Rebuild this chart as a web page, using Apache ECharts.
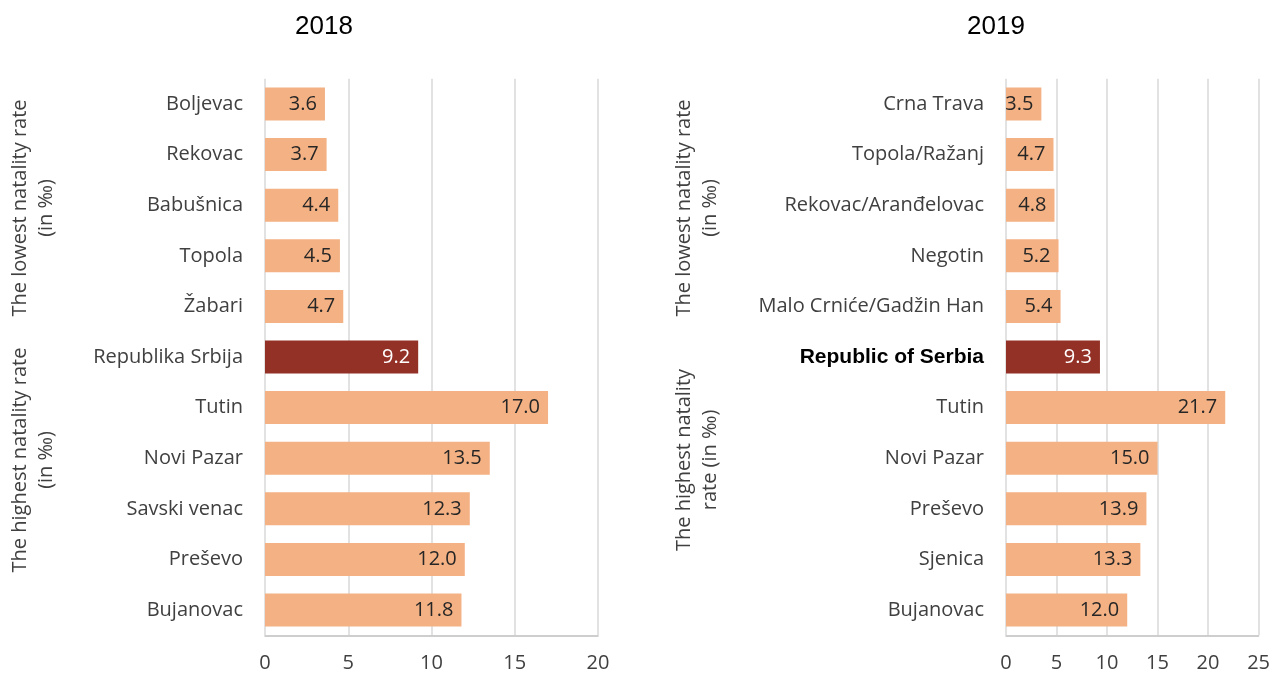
<!DOCTYPE html>
<html>
<head>
<meta charset="utf-8">
<script src="https://cdn.jsdelivr.net/npm/echarts@6/dist/echarts.min.js"></script>
<style>
html,body{margin:0;padding:0;background:#fff;}
#main{width:1273px;height:677px;}
</style>
</head>
<body>
<div id="main"></div>
<script>
var cats2018 = ['Boljevac','Rekovac','Babušnica','Topola','Žabari','Republika Srbija','Tutin','Novi Pazar','Savski venac','Preševo','Bujanovac'];
var vals2018 = [3.6,3.7,4.4,4.5,4.7,9.2,17.0,13.5,12.3,12.0,11.8];
var cats2019 = ['Crna Trava','Topola/Ražanj','Rekovac/Aranđelovac','Negotin','Malo Crniće/Gadžin Han','Republic of Serbia','Tutin','Novi Pazar','Preševo','Sjenica','Bujanovac'];
var vals2019 = [3.5,4.7,4.8,5.2,5.4,9.3,21.7,15.0,13.9,13.3,12.0];
var titles = ['2018','2019'];
var groupNames2018 = ['The lowest natality rate\n(in ‰)','The highest natality rate\n(in ‰)'];
var groupNames2019 = ['The lowest natality rate\n(in ‰)','The highest natality\nrate (in ‰)'];
var totalIndex2018 = 5, totalIndex2019 = 5;

var FONT = 'Open Sans';
var LIGHT = '#F4B183', DARK = '#943126';
var TXT = '#404040';

function mkData(vals, idx){
  return vals.map(function(v,i){
    return {value:v, itemStyle:{color: i===idx?DARK:LIGHT},
      label:{color: i===idx?'#ffffff':'#262626'}};
  });
}

var chart = echarts.init(document.getElementById('main'));
var gridTop = 78.7, gridH = 556.6;
var rotStyle = {fontFamily:FONT, fontSize:20, fill:TXT, align:'center', verticalAlign:'middle', lineHeight:26};
var option = {
  animation:false,
  backgroundColor:'#fff',
  title:[
    {text:titles[0], left:319, top:9, textAlign:'center', textStyle:{fontFamily:'Liberation Sans', fontSize:26, fontWeight:'normal', color:'#000'}},
    {text:titles[1], left:991, top:9, textAlign:'center', textStyle:{fontFamily:'Liberation Sans', fontSize:26, fontWeight:'normal', color:'#000'}}
  ],
  grid:[
    {left:265, width:333, top:gridTop, height:gridH},
    {left:1006, width:253, top:gridTop, height:gridH}
  ],
  xAxis:[
    {gridIndex:0, type:'value', min:0, max:20, interval:5,
     axisLine:{show:true, lineStyle:{color:'#BFBFBF', width:1.5}}, axisTick:{show:false},
     splitLine:{show:true, lineStyle:{color:'#D9D9D9', width:1.5}},
     axisLabel:{fontFamily:FONT, fontSize:20, color:TXT, margin:18}},
    {gridIndex:1, type:'value', min:0, max:25, interval:5,
     axisLine:{show:true, lineStyle:{color:'#BFBFBF', width:1.5}}, axisTick:{show:false},
     splitLine:{show:true, lineStyle:{color:'#D9D9D9', width:1.5}},
     axisLabel:{fontFamily:FONT, fontSize:20, color:TXT, margin:18}}
  ],
  yAxis:[
    {gridIndex:0, type:'category', data:cats2018, inverse:true,
     axisLine:{show:false}, axisTick:{show:false},
     axisLabel:{fontFamily:FONT, fontSize:20, color:TXT, margin:22}},
    {gridIndex:1, type:'category', data:cats2019, inverse:true,
     axisLine:{show:false}, axisTick:{show:false},
     axisLabel:{margin:22,
       formatter:function(v,i){ return i===totalIndex2019 ? '{b|'+v+'}' : '{n|'+v+'}'; },
       rich:{
         n:{fontFamily:FONT, fontSize:20, color:TXT},
         b:{fontFamily:'Liberation Sans', fontSize:21, fontWeight:'bold', color:'#000'}
       }}}
  ],
  series:[
    {type:'bar', xAxisIndex:0, yAxisIndex:0, data:mkData(vals2018,totalIndex2018), barWidth:33,
     label:{show:true, position:'insideRight', distance:8, fontFamily:FONT, fontSize:20,
       formatter:function(p){return p.value.toFixed(1);}}},
    {type:'bar', xAxisIndex:1, yAxisIndex:1, data:mkData(vals2019,totalIndex2019), barWidth:33,
     label:{show:true, position:'insideRight', distance:8, fontFamily:FONT, fontSize:20,
       formatter:function(p){return p.value.toFixed(1);}}}
  ],
  graphic:[
    {type:'text', x:33, y:208, rotation:Math.PI/2, style:Object.assign({text:groupNames2018[0]}, rotStyle)},
    {type:'text', x:33, y:460, rotation:Math.PI/2, style:Object.assign({text:groupNames2018[1]}, rotStyle)},
    {type:'text', x:697, y:208, rotation:Math.PI/2, style:Object.assign({text:groupNames2019[0]}, rotStyle)},
    {type:'text', x:697, y:460, rotation:Math.PI/2, style:Object.assign({text:groupNames2019[1]}, rotStyle)}
  ]
};
chart.setOption(option);
</script>
</body>
</html>
